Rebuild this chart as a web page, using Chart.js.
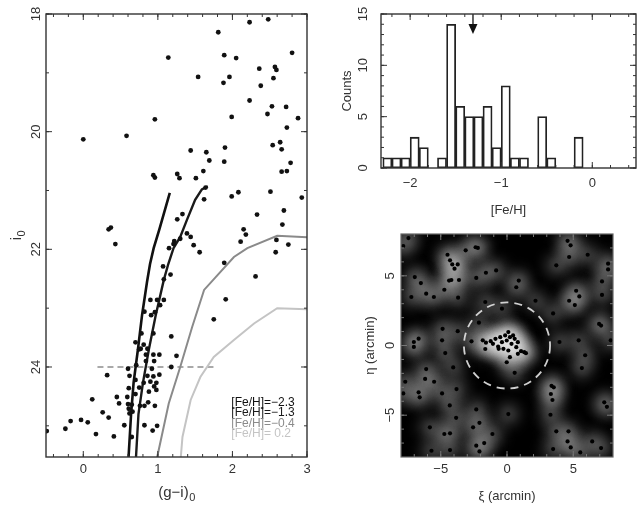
<!DOCTYPE html>
<html><head><meta charset="utf-8">
<script src="https://cdn.jsdelivr.net/npm/chart.js@4.4.1/dist/chart.umd.min.js"></script>
<style>
html,body{margin:0;padding:0;background:#fff;}
#wrap{position:relative;width:639px;height:508px;overflow:hidden;background:#fff}
#wrap canvas{position:absolute;left:0;top:0}
</style></head><body>
<div id="wrap">
<canvas id="cmd" width="639" height="508"></canvas>
<canvas id="hist" width="639" height="508"></canvas>
<canvas id="map" width="639" height="508"></canvas>
</div>
<script>
// ---------- CMD data ----------
const cmdColor = [0.00,0.58,0.96,1.14,1.54,1.81,1.89,2.05,1.96,1.88,2.23,2.48,2.80,2.36,2.57,2.59,2.38,2.55,2.23,2.53,2.72,2.47,1.99,2.88,2.73,2.54,2.64,2.66,1.90,1.44,1.65,1.69,1.89,2.78,1.61,2.66,2.73,0.94,0.96,1.26,1.29,1.51,1.64,1.62,1.99,2.08,2.51,2.93,2.33,2.69,2.67,1.33,1.26,0.34,0.37,0.43,2.15,2.18,2.11,2.59,2.75,1.39,1.44,1.30,1.22,1.21,1.48,1.15,1.56,2.58,1.89,1.07,1.17,1.08,2.31,1.91,1.75,0.90,0.99,1.08,1.03,0.96,0.91,0.82,1.18,0.78,0.70,0.75,0.81,0.86,0.84,1.02,0.94,0.95,0.84,1.25,1.18,0.60,0.71,0.92,1.02,0.62,0.32,0.86,0.94,0.81,0.90,0.98,0.95,0.61,0.70,0.98,0.59,0.45,0.12,0.48,0.60,0.65,0.61,0.76,0.82,0.87,0.96,0.66,0.62,0.26,0.34,-0.17,-0.03,0.06,-0.24,-0.49,0.17,0.41,0.55,0.82,0.93,0.94,0.77,0.99,0.65,0.70,0.75,0.88];
const cmdMag = [20.13,20.07,19.79,18.74,19.07,18.31,18.70,18.75,19.07,19.17,18.14,18.09,18.66,18.93,18.90,18.95,19.22,19.09,19.47,19.57,19.58,19.70,19.75,19.77,19.93,20.23,20.18,20.30,20.27,20.32,20.35,20.49,20.51,20.53,20.67,20.68,20.67,20.74,20.78,20.72,20.79,20.79,20.95,21.15,21.10,21.03,21.02,21.12,21.41,21.34,21.58,21.40,21.49,21.66,21.63,21.91,21.66,21.75,21.87,21.84,21.92,21.73,21.79,21.82,21.86,21.91,21.93,21.98,22.05,22.05,22.23,22.29,22.43,22.51,22.46,22.85,23.19,22.86,22.86,22.86,22.95,23.07,23.12,23.06,23.48,23.43,23.58,23.70,23.62,23.69,23.79,23.79,23.79,23.90,23.90,23.81,24.00,24.03,23.97,24.03,24.13,24.15,24.14,24.15,24.16,24.27,24.25,24.27,24.33,24.36,24.46,24.39,24.51,24.51,24.55,24.62,24.63,24.64,24.71,24.66,24.66,24.60,24.66,24.76,24.79,24.77,24.86,24.92,24.90,24.94,25.05,25.09,25.14,25.18,24.99,24.99,25.08,23.43,23.69,25.00,25.19,24.22,24.35,24.42];

// isochrones
const isoLabels = ['[Fe/H]=\u22122.3','[Fe/H]=\u22121.3','[Fe/H]=\u22120.4','[Fe/H]= 0.2'];
const iso1Color = [1.16,1.09,1.02,0.944,0.895,0.855,0.788,0.734,0.675,0.64,0.607,0.60];
const iso1Mag   = [21.04,21.35,21.66,21.98,22.25,22.55,23.12,23.69,24.26,24.82,25.53,25.65];
const iso2Color = [1.67,1.59,1.50,1.39,1.30,1.21,1.14,1.08,0.97,0.88,0.80,0.74,0.707,0.70];
const iso2Mag   = [20.93,20.98,21.16,21.50,21.79,21.98,22.25,22.52,23.13,23.70,24.27,24.80,25.53,25.65];
const iso3Color = [3.05,2.60,2.20,2.02,1.62,1.46,1.30,1.146,1.01,0.97];
const iso3Mag   = [21.80,21.77,21.98,22.13,22.69,23.32,24.00,24.62,25.42,25.65];
const iso4Color = [3.05,2.60,2.29,2.02,1.75,1.57,1.44,1.33,1.30];
const iso4Mag   = [23.02,23.00,23.26,23.54,23.83,24.17,24.56,25.19,25.65];
const limitColor = [0.19,1.80];
const limitMag = [24.0,24.0];

const cmdXTicks = [0,1,2,3];
const cmdXTickLabels = ['0','1','2','3'];
const cmdYTicks = [18,20,22,24];
const cmdYTickLabels = ['18','20','22','24'];

// ---------- histogram data ----------
const binCenters = [-2.25,-2.15,-2.05,-1.95,-1.85,-1.75,-1.65,-1.55,-1.45,-1.35,-1.25,-1.15,-1.05,-0.95,-0.85,-0.75,-0.65,-0.55,-0.45,-0.35,-0.25,-0.15];
const binCounts  = [1,1,1,3,2,0,1,14,6,5,5,6,2,8,1,1,0,5,1,0,0,3];
const meanFeH = -1.31;
const histXTicks = [-2,-1,0];
const histXTickLabels = ['\u22122','\u22121','0'];
const histYTicks = [0,5,10,15];
const histYTickLabels = ['0','5','10','15'];

// ---------- map data ----------
const starXi = [-7.44,-7.83,-2.20,-2.37,-3.12,-4.49,-4.30,-4.13,-3.72,-3.96,-0.82,-1.59,-6.96,-6.50,-4.37,-4.20,-3.62,-2.32,-4.73,-6.10,-5.52,-7.22,-3.69,-1.64,-0.38,-2.12,-4.86,-3.72,-6.67,-7.03,-1.83,-4.90,-2.68,
 4.57,4.80,4.69,6.09,3.72,7.63,7.63,0.89,0.70,7.17,5.22,5.46,4.69,5.12,7.17,2.15,3.48,7.10,3.96,5.41,7.83,6.95,
 -7.03,-4.66,-1.64,-6.10,-6.18,-5.50,-7.68,-6.67,-6.59,-4.90,-3.81,-7.83,-4.06,-4.32,-2.32,-3.84,-2.08,-5.82,-2.56,-4.73,-4.30,-1.10,-2.32,-1.72,-4.30,-2.08,-5.70,
 5.65,3.36,3.53,3.31,3.43,7.34,7.54,3.28,0.10,3.72,4.64,4.57,6.43,4.81,3.48,7.10,5.53,0.58,5.90,
 -1.23,-1.06,-0.87,-0.67,-0.51,-0.38,-0.14,-0.02,0.10,0.22,0.34,0.46,0.58,0.70,0.82,1.06,1.30,1.43,0.10,0.22,-0.27,-0.63,-1.59,-0.02,0.82];
const starEta = [7.71,7.14,7.00,7.05,6.83,6.51,6.11,5.82,5.82,5.51,5.39,5.22,4.91,4.48,4.66,4.70,4.70,4.85,4.00,3.72,3.48,3.48,3.43,3.12,2.64,1.64,1.20,1.03,0.49,0.25,0.37,0.37,0.30,
 7.51,7.19,6.35,6.51,5.75,5.87,5.46,4.66,4.18,4.60,3.93,3.52,3.21,2.90,3.63,3.21,2.30,1.43,0.25,0.37,0.37,1.55,
 -0.10,-0.54,-0.25,-1.69,-2.40,-2.60,-2.60,-3.36,-3.72,-3.44,-3.13,-3.44,-1.57,-4.30,-4.59,-5.19,-5.55,-5.87,-5.87,-6.35,-6.30,-6.35,-7.19,-7.00,-7.50,-7.60,-7.55,
 -1.62,-2.89,-3.00,-3.48,-3.91,-4.08,-4.40,-4.97,-4.92,-6.16,-6.16,-6.88,-6.88,-7.31,-7.43,-7.36,-7.67,-1.96,-0.70,
 0.31,0.12,0.48,-0.07,0.60,0.24,0.72,0.36,0.96,0.60,0.12,0.72,0.48,-0.12,0.24,-0.41,-0.48,-0.55,-0.36,-0.84,-0.24,-0.24,0.20,-1.20,-0.60];
const circleRadius = 3.25; // arcmin
const mapTicks = [-5,0,5];
const mapTickLabels = ['\u22125','0','5'];

// ---------- helpers ----------
const FONT = '"Liberation Sans", Arial, Helvetica, sans-serif';
const W = 639, H = 508;
const pts = (xs, ys) => xs.map((v, i) => ({x: v, y: ys[i]}));
function range(a, b, s) { const r = []; for (let v = a; v <= b + 1e-9; v += s) r.push(Math.round(v * 1000) / 1000); return r; }

function drawTitle(ctx, main, sub, size) {
  ctx.font = `${size}px ${FONT}`;
  const w1 = ctx.measureText(main).width;
  let w2 = 0;
  if (sub) { ctx.font = `${Math.round(size * 0.72)}px ${FONT}`; w2 = ctx.measureText(sub).width; }
  const x0 = -(w1 + w2) / 2;
  ctx.textAlign = 'left'; ctx.textBaseline = 'middle';
  ctx.font = `${size}px ${FONT}`;
  ctx.fillText(main, x0, 0);
  if (sub) { ctx.font = `${Math.round(size * 0.72)}px ${FONT}`; ctx.fillText(sub, x0 + w1 + 0.5, size * 0.35); }
}

function axesPlugin(cfg) {
  return {
    id: 'frameAxes',
    afterDraw(chart) {
      const {ctx, chartArea: a} = chart;
      const x = chart.scales.x, y = chart.scales.y;
      ctx.save();
      ctx.strokeStyle = cfg.tickColor || '#333';
      ctx.lineWidth = 1;
      const seg = (x1, y1, x2, y2) => { ctx.beginPath(); ctx.moveTo(x1, y1); ctx.lineTo(x2, y2); ctx.stroke(); };
      const inX = v => { const p = x.getPixelForValue(v); return p >= a.left - 0.5 && p <= a.right + 0.5; };
      const inY = v => { const p = y.getPixelForValue(v); return p >= a.top - 0.5 && p <= a.bottom + 0.5; };
      cfg.xMinor.filter(inX).forEach(v => { const p = x.getPixelForValue(v); seg(p, a.bottom, p, a.bottom - 3); seg(p, a.top, p, a.top + 3); });
      cfg.xTicks.filter(inX).forEach(v => { const p = x.getPixelForValue(v); seg(p, a.bottom, p, a.bottom - 6); seg(p, a.top, p, a.top + 6); });
      cfg.yMinor.filter(inY).forEach(v => { const p = y.getPixelForValue(v); seg(a.left, p, a.left + 3, p); seg(a.right, p, a.right - 3, p); });
      cfg.yTicks.filter(inY).forEach(v => { const p = y.getPixelForValue(v); seg(a.left, p, a.left + 6, p); seg(a.right, p, a.right - 6, p); });
      ctx.strokeStyle = cfg.frameColor || '#333';
      ctx.lineWidth = cfg.frameWidth || 1.4;
      ctx.strokeRect(a.left, a.top, a.right - a.left, a.bottom - a.top);
      ctx.fillStyle = '#333';
      ctx.font = `${cfg.fontSize || 13}px ${FONT}`;
      ctx.textAlign = 'center'; ctx.textBaseline = 'middle';
      cfg.xTicks.forEach((v, i) => ctx.fillText(cfg.xTickLabels[i], x.getPixelForValue(v), a.bottom + cfg.xLabelOff));
      cfg.yTicks.forEach((v, i) => {
        ctx.save(); ctx.translate(a.left - cfg.yLabelOff, y.getPixelForValue(v)); ctx.rotate(-Math.PI / 2);
        ctx.fillText(cfg.yTickLabels[i], 0, 0); ctx.restore();
      });
      const ts = cfg.titleSize || 13;
      ctx.save(); ctx.translate((a.left + a.right) / 2, a.bottom + cfg.xTitleOff);
      drawTitle(ctx, cfg.xTitle, cfg.xTitleSub, ts); ctx.restore();
      ctx.save(); ctx.translate(a.left - cfg.yTitleOff, (a.top + a.bottom) / 2); ctx.rotate(-Math.PI / 2);
      drawTitle(ctx, cfg.yTitle, cfg.yTitleSub, ts); ctx.restore();
      ctx.restore();
    }
  };
}

const baseOpts = (pad, xs, ys) => ({
  responsive: false, animation: false, devicePixelRatio: 1,
  layout: {padding: pad},
  plugins: {legend: {display: false}, tooltip: {enabled: false}},
  scales: {
    x: Object.assign({type: 'linear', display: false, offset: false}, xs),
    y: Object.assign({type: 'linear', display: false}, ys)
  }
});

// ---------- CMD chart ----------
const legendX = 1.985, legendMag = [24.60, 24.78, 24.96, 25.13];
const isoColors = ['#111', '#1a1a1a', '#8a8a8a', '#c4c4c4'];
new Chart(document.getElementById('cmd'), {
  type: 'scatter',
  data: {datasets: [
    {data: pts(cmdColor, cmdMag), pointRadius: 2.4, pointBackgroundColor: '#111', pointBorderWidth: 0, showLine: false},
    {data: pts(iso1Color, iso1Mag), showLine: true, pointRadius: 0, borderColor: isoColors[0], borderWidth: 2.6, tension: 0},
    {data: pts(iso2Color, iso2Mag), showLine: true, pointRadius: 0, borderColor: isoColors[1], borderWidth: 2.4, tension: 0},
    {data: pts(iso3Color, iso3Mag), showLine: true, pointRadius: 0, borderColor: isoColors[2], borderWidth: 2, tension: 0},
    {data: pts(iso4Color, iso4Mag), showLine: true, pointRadius: 0, borderColor: isoColors[3], borderWidth: 2, tension: 0},
    {data: pts(limitColor, limitMag), showLine: true, pointRadius: 0, borderColor: '#555', borderWidth: 1.2, borderDash: [6, 4]}
  ]},
  options: baseOpts({left: 46, top: 14, right: W - 307, bottom: H - 457},
    {min: -0.5, max: 3}, {min: 18, max: 25.53, reverse: true}),
  plugins: [axesPlugin({
    xTicks: cmdXTicks, xTickLabels: cmdXTickLabels, xMinor: range(-0.4, 3, 0.2),
    yTicks: cmdYTicks, yTickLabels: cmdYTickLabels, yMinor: range(18, 25, 1),
    xLabelOff: 12, yLabelOff: 10, xTitle: '(g\u2212i)', xTitleSub: '0', xTitleOff: 36, yTitle: 'i', yTitleSub: '0', yTitleOff: 29, fontSize: 13, titleSize: 15
  }), {
    id: 'isoLegend',
    afterDatasetsDraw(chart) {
      const {ctx} = chart; const x = chart.scales.x, y = chart.scales.y;
      ctx.save(); ctx.font = `12px ${FONT}`; ctx.textAlign = 'left'; ctx.textBaseline = 'middle';
      isoLabels.forEach((t, i) => { ctx.fillStyle = isoColors[i]; ctx.fillText(t, x.getPixelForValue(legendX), y.getPixelForValue(legendMag[i])); });
      ctx.restore();
    }
  }]
});

// ---------- Histogram ----------
new Chart(document.getElementById('hist'), {
  type: 'bar',
  data: {datasets: [{
    data: pts(binCenters, binCounts), backgroundColor: 'rgba(0,0,0,0)', borderColor: '#222', borderWidth: 1.1,
    borderSkipped: false, barPercentage: 1, categoryPercentage: 1, grouped: false
  }]},
  options: baseOpts({left: 381, top: 14, right: W - 636, bottom: H - 168},
    {min: -2.32, max: 0.48}, {min: 0, max: 15}),
  plugins: [axesPlugin({
    xTicks: histXTicks, xTickLabels: histXTickLabels, xMinor: range(-2.2, 0.4, 0.2),
    yTicks: histYTicks, yTickLabels: histYTickLabels, yMinor: range(0, 15, 1),
    xLabelOff: 15, yLabelOff: 18, xTitle: '[Fe/H]', xTitleOff: 42, yTitle: 'Counts', yTitleOff: 34, fontSize: 13, titleSize: 13
  }), {
    id: 'meanArrow',
    afterDatasetsDraw(chart) {
      const {ctx, chartArea: a} = chart; const px = chart.scales.x.getPixelForValue(meanFeH);
      ctx.save(); ctx.strokeStyle = '#111'; ctx.fillStyle = '#111'; ctx.lineWidth = 1.3;
      ctx.beginPath(); ctx.moveTo(px, a.top); ctx.lineTo(px, a.top + 12); ctx.stroke();
      ctx.beginPath(); ctx.moveTo(px - 4.5, a.top + 10); ctx.lineTo(px + 4.5, a.top + 10); ctx.lineTo(px, a.top + 20); ctx.closePath(); ctx.fill();
      ctx.restore();
    }
  }]
});

// ---------- Density map ----------
function makeGlow(R, peak) {
  const c = document.createElement('canvas'); c.width = c.height = 2 * R;
  const g = c.getContext('2d');
  const grd = g.createRadialGradient(R, R, 0, R, R, R);
  for (let i = 0; i <= 12; i++) { const t = i / 12; const al = i === 12 ? 0 : peak * Math.exp(-4.5 * t * t); grd.addColorStop(t, `rgba(255,255,255,${al.toFixed(4)})`); }
  g.fillStyle = grd; g.fillRect(0, 0, 2 * R, 2 * R);
  return c;
}
const glow = makeGlow(26, 0.2);
new Chart(document.getElementById('map'), {
  type: 'scatter',
  data: {datasets: [
    {data: pts(starXi, starEta), pointRadius: 2.1, pointBackgroundColor: '#000', pointBorderWidth: 0},
    {data: pts(starXi, starEta), pointStyle: glow, pointRadius: 26, pointBorderWidth: 0}
  ]},
  options: baseOpts({left: 401, top: 234, right: W - 622, bottom: H - 457},
    {min: -8, max: 8}, {min: -8, max: 8}),
  plugins: [{
    id: 'darkBg',
    beforeDatasetsDraw(chart) { const {ctx, chartArea: a} = chart; ctx.save(); ctx.fillStyle = '#000'; ctx.fillRect(a.left, a.top, a.right - a.left, a.bottom - a.top); ctx.restore(); },
    afterDatasetsDraw(chart) {
      const {ctx} = chart; const x = chart.scales.x, y = chart.scales.y;
      const cx = x.getPixelForValue(0), cy = y.getPixelForValue(0);
      const r = x.getPixelForValue(circleRadius) - cx;
      ctx.save(); ctx.strokeStyle = 'rgba(230,230,230,0.9)'; ctx.lineWidth = 1.8; ctx.setLineDash([8, 6]);
      ctx.beginPath(); ctx.arc(cx, cy, r, 0, Math.PI * 2); ctx.stroke(); ctx.restore();
    }
  }, axesPlugin({
    xTicks: mapTicks, xTickLabels: mapTickLabels, xMinor: range(-7, 7, 1),
    yTicks: mapTicks, yTickLabels: mapTickLabels, yMinor: range(-7, 7, 1),
    xLabelOff: 12, yLabelOff: 11, xTitle: '\u03BE (arcmin)', xTitleOff: 39, yTitle: '\u03B7 (arcmin)', yTitleOff: 31, fontSize: 13, titleSize: 13,
    tickColor: '#777', frameColor: '#666', frameWidth: 1.2
  })]
});
</script>
</body></html>
